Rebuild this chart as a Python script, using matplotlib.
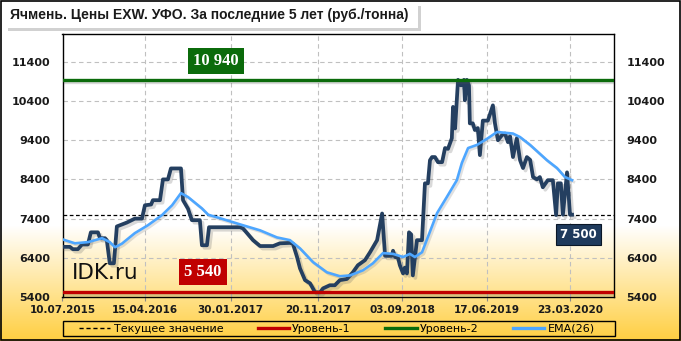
import matplotlib
matplotlib.use('Agg')
import matplotlib.pyplot as plt
import matplotlib.patheffects as pe
from matplotlib.patches import Rectangle
from matplotlib.lines import Line2D
import numpy as np
import pandas as pd

title = "Ячмень. Цены EXW. УФО. За последние 5 лет (руб./тонна)"

price_dates = [
    "2015-07-10", "2015-08-04", "2015-08-14", "2015-08-31", "2015-09-14", "2015-10-04",
    "2015-10-14", "2015-11-07", "2015-11-14", "2015-12-01", "2015-12-07", "2015-12-17",
    "2015-12-31", "2016-01-10", "2016-01-27", "2016-02-13", "2016-03-11", "2016-04-04",
    "2016-04-14", "2016-05-05", "2016-05-11", "2016-06-04", "2016-06-14", "2016-07-01",
    "2016-07-11", "2016-08-14", "2016-08-21", "2016-09-07", "2016-09-20", "2016-10-17",
    "2016-10-24", "2016-11-10", "2016-11-17", "2017-03-02", "2017-03-12", "2017-04-15",
    "2017-05-09", "2017-06-22", "2017-07-15", "2017-08-18", "2017-08-28", "2017-09-11",
    "2017-09-21", "2017-10-08", "2017-10-25", "2017-11-11", "2017-11-28", "2017-12-08",
    "2017-12-31", "2018-01-17", "2018-02-03", "2018-02-27", "2018-03-19", "2018-04-05",
    "2018-04-29", "2018-05-16", "2018-06-09", "2018-06-26", "2018-07-06", "2018-07-29",
    "2018-08-02", "2018-08-09", "2018-08-19", "2018-08-25", "2018-09-05", "2018-09-11",
    "2018-09-18", "2018-09-25", "2018-10-02", "2018-10-08", "2018-10-22", "2018-11-08",
    "2018-11-18", "2018-11-28", "2018-12-05", "2018-12-12", "2018-12-22", "2019-01-01",
    "2019-01-15", "2019-01-25", "2019-02-04", "2019-02-17", "2019-02-21", "2019-02-28",
    "2019-03-10", "2019-03-20", "2019-03-30", "2019-04-02", "2019-04-09", "2019-04-16",
    "2019-04-19", "2019-04-29", "2019-05-06", "2019-05-16", "2019-05-23", "2019-06-02",
    "2019-06-19", "2019-07-06", "2019-07-13", "2019-07-23", "2019-08-06", "2019-08-16",
    "2019-08-26", "2019-09-02", "2019-09-12", "2019-09-25", "2019-10-06", "2019-10-16",
    "2019-10-29", "2019-11-09", "2019-11-19", "2019-12-02", "2019-12-12", "2019-12-22",
    "2020-01-08", "2020-01-25", "2020-02-05", "2020-02-11", "2020-02-21", "2020-02-28",
    "2020-03-13", "2020-03-23", "2020-03-30",
]
price_values = [
    6680, 6680, 6620, 6620, 6740, 6740,
    7050, 7050, 6900, 6900, 6850, 6260,
    6260, 7200, 7250, 7300, 7400, 7400,
    7740, 7760, 7870, 7870, 8400, 8400,
    8680, 8680, 7870, 7650, 7360, 7360,
    6720, 6720, 7180, 7180, 7150, 6850,
    6700, 6700, 6770, 6780, 6760, 6420,
    6130, 5830, 5750, 5520, 5520, 5620,
    5700, 5700, 5830, 5860, 6030, 6210,
    6340, 6540, 6850, 7530, 6450, 6450,
    6580, 6420, 6400, 6210, 6000, 6150,
    6000, 7050, 7000, 5950, 6850, 6850,
    8300, 8300, 8890, 8970, 8970, 8840,
    8840, 9200, 9180, 9450, 10250, 9700,
    10940, 10800, 10940, 10420, 10940, 10800,
    9830, 9830, 9660, 9710, 9020, 9900,
    9900, 10290, 9830, 9400, 9530, 9570,
    9350, 9500, 8970, 9450, 8890, 8690,
    8970, 8900, 8460, 8400, 8460, 8200,
    8380, 8380, 7490, 8300, 8300, 7500,
    8580, 7500, 7500,
]

ema_dates = [
    "2015-07-10", "2015-08-21", "2015-10-04", "2015-11-21", "2015-12-17", "2016-01-04",
    "2016-01-27", "2016-03-11", "2016-04-24", "2016-06-11", "2016-07-15", "2016-08-14",
    "2016-09-07", "2016-10-24", "2016-11-14", "2016-12-24", "2017-03-12", "2017-05-09",
    "2017-07-05", "2017-08-18", "2017-09-21", "2017-11-04", "2017-12-21", "2018-02-03",
    "2018-03-09", "2018-04-22", "2018-05-26", "2018-06-29", "2018-08-02", "2018-09-05",
    "2018-09-28", "2018-10-15", "2018-11-08", "2018-11-28", "2018-12-29", "2019-01-31",
    "2019-03-06", "2019-03-23", "2019-04-13", "2019-05-13", "2019-06-19", "2019-07-20",
    "2019-09-12", "2019-10-06", "2019-11-09", "2020-01-05", "2020-02-08", "2020-03-06",
    "2020-03-30",
]
ema_values = [
    6870, 6770, 6800, 6900, 6800, 6670,
    6760, 7030, 7230, 7490, 7740, 8050,
    7950, 7660, 7500, 7410, 7230, 7100,
    6920, 6850, 6640, 6290, 6030, 5930,
    5950, 6080, 6260, 6520, 6500, 6420,
    6500, 6420, 6540, 6930, 7540, 7950,
    8380, 8820, 9200, 9280, 9450, 9610,
    9570, 9480, 9280, 8890, 8690, 8460,
    8380,
]

level1 = 5540
level2 = 10940
current_value = 7500

y_ticks = [5400, 6400, 7400, 8400, 9400, 10400, 11400]
x_tick_dates = ["2015-07-10", "2016-04-15", "2017-01-30", "2017-11-20",
                "2018-09-03", "2019-06-17", "2020-03-23"]
x_tick_labels = ["10.07.2015", "15.04.2016", "30.01.2017", "20.11.2017",
                 "03.09.2018", "17.06.2019", "23.03.2020"]
x_limits = ["2015-07-10", "2020-08-19"]
y_limits = [5400, 12110]

legend_labels = ["Текущее значение", "Уровень-1", "Уровень-2", "EMA(26)"]

W, H = 681, 341
fig = plt.figure(figsize=(W / 100, H / 100), dpi=100)

# background gradient
bg = fig.add_axes([0, 0, 1, 1], zorder=-10)
bg.set_axis_off()
rows = np.arange(H)
t = np.clip((rows - 225) / (H - 225), 0, 1)
top = np.array([1.0, 1.0, 1.0])
bot = np.array([1.0, 0.81, 0.25])
grad = top[None, :] * (1 - t[:, None]) + bot[None, :] * t[:, None]
grad = np.repeat(grad[:, None, :], 2, axis=1)
bg.imshow(grad, aspect='auto', extent=[0, 1, 0, 1], origin='upper')
bg.set_xlim(0, 1)
bg.set_ylim(0, 1)
bg.add_patch(Rectangle((0.0008, 0.0015), 0.9984, 0.997, fill=False, edgecolor='black', lw=1.2,
                       transform=bg.transAxes))

# title box with shadow
tx0, ty0, tw, th = 5 / W, 1 - 28 / H, 413 / W, 25 / H
bg.add_patch(Rectangle((tx0 + 3 / W, ty0 - 3 / H), tw, th, facecolor='#9a9a9a', alpha=0.45,
                       edgecolor='none', transform=bg.transAxes))
bg.add_patch(Rectangle((tx0, ty0), tw, th, facecolor='white', edgecolor='none',
                       transform=bg.transAxes))
fig.text(10 / W, 1 - 15.5 / H, title, fontsize=10, fontweight='bold', color='#1a1a1a',
         ha='left', va='center', family='Liberation Sans')

ax = fig.add_axes([62.5 / W, 1 - 297 / H, 551.5 / W, 263 / H])
ax.patch.set_alpha(0)

pd_price = pd.to_datetime(price_dates)
pd_ema = pd.to_datetime(ema_dates)

def shadow(off=1.5, a=0.22):
    return [pe.SimpleLineShadow(offset=(off, -off), shadow_color='#555555', alpha=a), pe.Normal()]

ax.axhline(level2, color='#0b6b0b', lw=2.4, zorder=6, path_effects=shadow())
ax.axhline(level1, color='#c00000', lw=2.4, zorder=6, path_effects=shadow())
ax.axhline(current_value, color='black', lw=0.9, ls=(0, (3, 2)), zorder=3)

ax.plot(pd_price, price_values, color='#243f60', lw=2.7, zorder=4, solid_joinstyle='round',
        path_effects=shadow(1.8, 0.22))
ax.plot(pd_ema, ema_values, color='#4da6ff', lw=1.9, zorder=5, path_effects=shadow(1.3, 0.18))

ax.set_xlim(pd.to_datetime(x_limits[0]), pd.to_datetime(x_limits[1]))
ax.set_ylim(*y_limits)
ax.set_yticks(y_ticks)
ax.set_yticklabels([str(v) for v in y_ticks])
ax.set_xticks(pd.to_datetime(x_tick_dates))
ax.set_xticklabels(x_tick_labels)
ax.tick_params(axis='y', length=0, labelsize=8, pad=9, labelright=True, labelleft=True,
               labelcolor='#1a1a1a')
ax.tick_params(axis='x', length=3, labelsize=7.5, pad=3, labelcolor='#1a1a1a', color='#888888')
for lab in ax.get_xticklabels():
    lab.set_fontweight('bold')
for tick in ax.yaxis.get_major_ticks():
    tick.label1.set_fontweight('bold')
    tick.label2.set_fontweight('bold')

ax.grid(True, color='#c0c0c0', ls=(0, (4, 3)), lw=0.8, zorder=1)
for s in ax.spines.values():
    s.set_color('black')
    s.set_linewidth(1.0)

ax.text(0.278, 11420, "10 940", transform=ax.get_yaxis_transform(), ha='center', va='center',
        fontsize=12, fontweight='bold', color='white', family='Liberation Serif', zorder=8,
        bbox=dict(boxstyle='square,pad=0.3', facecolor='#0b6b0b', edgecolor='none'))
ax.text(0.255, 6030, "5 540", transform=ax.get_yaxis_transform(), ha='center', va='center',
        fontsize=12, fontweight='bold', color='white', family='Liberation Serif', zorder=8,
        bbox=dict(boxstyle='square,pad=0.3', facecolor='#c00000', edgecolor='none'))
ax.text(0.935, 7000, "7 500", transform=ax.get_yaxis_transform(), ha='center', va='center',
        fontsize=8.5, fontweight='bold', color='white', family='DejaVu Sans', zorder=8,
        bbox=dict(boxstyle='square,pad=0.35', facecolor='#1f3a5c', edgecolor='#0a1626', lw=0.8))

ax.text(0.017, 6000, "IDK.ru", transform=ax.get_yaxis_transform(), ha='left', va='center',
        fontsize=15.5, color='#111111', family='DejaVu Sans', zorder=8)

handles = [
    Line2D([], [], color='black', lw=1.0, ls=(0, (3, 2))),
    Line2D([], [], color='#c00000', lw=2.4),
    Line2D([], [], color='#0b6b0b', lw=2.4),
    Line2D([], [], color='#4da6ff', lw=2.4),
]
leg = fig.legend(handles, legend_labels, loc='center',
                 bbox_to_anchor=(72 / W, 1 - 336 / H, 530 / W, 15 / H), mode='expand', ncol=4,
                 fontsize=8, handlelength=2.8, handletextpad=0.3, borderpad=0.15,
                 frameon=False, columnspacing=1.0)
bg.add_patch(Rectangle((63 / W, 1 - 336 / H), 552 / W, 15.5 / H, fill=False, edgecolor='black',
                       lw=1.0, transform=bg.transAxes))

fig.savefig('out.png', dpi=100)
